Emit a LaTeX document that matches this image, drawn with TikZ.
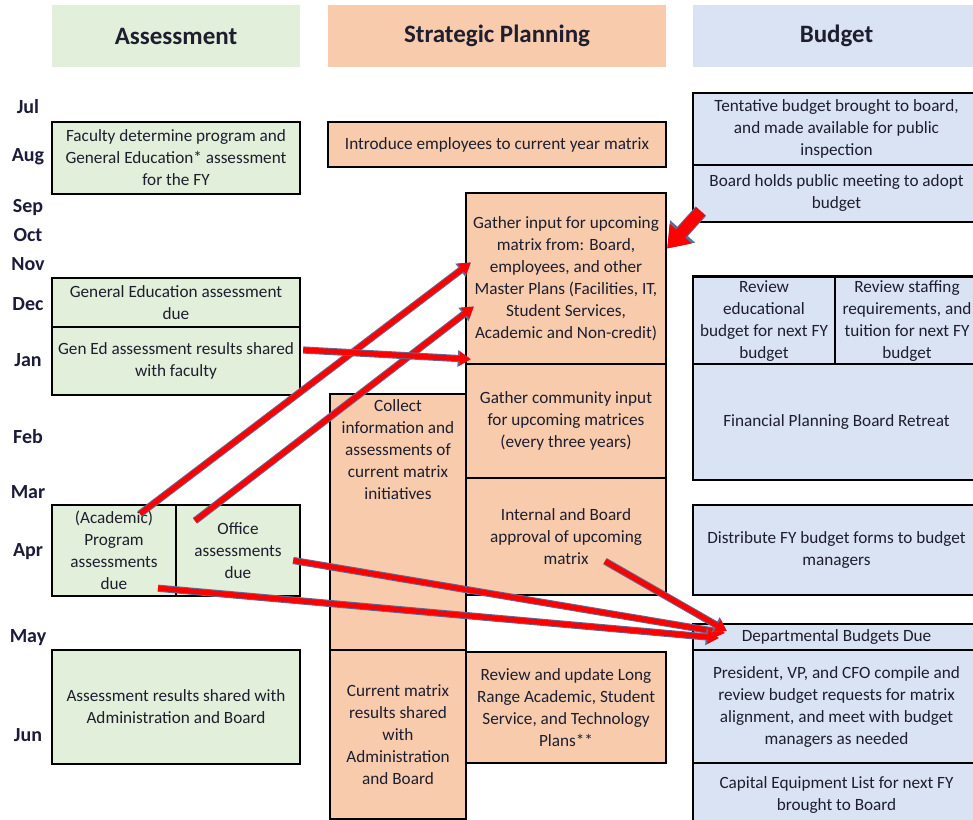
\documentclass[tikz,border=0pt]{standalone}
\usepackage{fontspec}
\setmainfont{Carlito}
\usetikzlibrary{arrows.meta}
\definecolor{assessgreen}{HTML}{E2EFDA}
\definecolor{planpeach}{HTML}{F8CBAD}
\definecolor{budgetblue}{HTML}{DAE3F3}
\definecolor{monthnavy}{HTML}{1C1C3A}
\definecolor{textdark}{HTML}{1E1E2E}
\definecolor{arrowred}{HTML}{FF0000}
\definecolor{arrowedge}{HTML}{5A6E9A}
\tikzset{%
  cell/.style     = {shape=rectangle, draw, line width=1.2pt, align=center,%
                     inner sep=2pt, text=textdark, font=\fontsize{8.6}{11}\selectfont},%
  assess/.style   = {cell, fill=assessgreen},%
  plan/.style     = {cell, fill=planpeach},%
  budget/.style   = {cell, fill=budgetblue},%
  header/.style   = {shape=rectangle, align=center, minimum height=31pt, text=textdark,%
                     font=\bfseries\fontsize{12.5}{15}\selectfont},%
  month/.style    = {font=\bfseries\fontsize{10}{12}\selectfont, text=monthnavy},%
  link/.style     = {draw=arrowred, line width=2.6pt, -{Triangle[width=6.5pt,length=5.5pt]},%
                     preaction={draw=arrowedge, line width=3.6pt, -{Triangle[width=8pt,length=6.5pt]}}},%
  biglink/.style  = {draw=arrowred, line width=6pt, -{Triangle[width=14pt,length=10pt]},%
                     preaction={draw=arrowedge, line width=7pt, -{Triangle[width=16pt,length=11.5pt]}}}%
}
\begin{document}
\begin{tikzpicture}[x=0.5pt,y=-0.5pt]
	\useasboundingbox (0,0) rectangle (973,819);
	\clip (0,0) rectangle (973,819);
	% column headers
	\node[header, fill=assessgreen, minimum width=124pt] (hassess) at (176,36) {Assessment};
	\node[header, fill=planpeach, minimum width=169pt] (hplan) at (497,36) {Strategic Planning};
	\node[header, fill=budgetblue, minimum width=143.5pt] (hbudget) at (836.5,36) {Budget};
	% months
	\node[month] (jul) at (28,107) {Jul};
	\node[month] (aug) at (28,157) {Aug};
	\node[month] (sep) at (28,208) {Sep};
	\node[month] (oct) at (28,235) {Oct};
	\node[month] (nov) at (28,264) {Nov};
	\node[month] (dec) at (28,304) {Dec};
	\node[month] (jan) at (28,360) {Jan};
	\node[month] (feb) at (28,437) {Feb};
	\node[month] (mar) at (28,492) {Mar};
	\node[month] (apr) at (28,552) {Apr};
	\node[month] (may) at (28,638) {May};
	\node[month] (jun) at (28,735) {Jun};
	% assessment
	\node[assess, minimum width=124pt, minimum height=36pt] (faculty) at (176,158)
		{Faculty determine program and\\General Education* assessment\\for the FY};
	\node[assess, minimum width=124pt, minimum height=24.5pt] (gedue) at (176,302.5)
		{General Education assessment\\due};
	\node[assess, minimum width=124pt, minimum height=34pt] (geres) at (176,361)
		{Gen Ed assessment results shared\\with faculty};
	\node[assess, minimum width=62pt, minimum height=45.5pt] (acad) at (114,550.5)
		{(Academic)\\Program\\assessments\\due};
	\node[assess, minimum width=62pt, minimum height=45.5pt] (office) at (238,550.5)
		{Office\\assessments\\due};
	\node[assess, minimum width=124pt, minimum height=57pt] (ashare) at (176,707)
		{Assessment results shared with\\Administration and Board};
	% strategic planning
	\node[plan, minimum width=169pt, minimum height=22.5pt] (intro) at (497,144.5)
		{Introduce employees to current year matrix};
	\node[plan, minimum width=100pt, minimum height=85.5pt] (gather) at (566,278.5)
		{Gather input for upcoming\\matrix from: Board,\\employees, and other\\Master Plans (Facilities, IT,\\Student Services,\\Academic and Non-credit)};
	\node[plan, minimum width=68pt, minimum height=128pt] (collect) at (398,522)
		{\parbox[c][122pt][t]{64pt}{\centering Collect\\information and\\assessments of\\current matrix\\initiatives}};
	\node[plan, minimum width=100pt, minimum height=57pt] (community) at (566,421)
		{Gather community input\\for upcoming matrices\\(every three years)};
	\node[plan, minimum width=100pt, minimum height=58.5pt] (internal) at (566,536.5)
		{Internal and Board\\approval of upcoming\\matrix};
	\node[plan, minimum width=68pt, minimum height=84.5pt] (current) at (398,734.5)
		{Current matrix\\results shared\\with\\Administration\\and Board};
	\node[plan, minimum width=100pt, minimum height=55.5pt] (review) at (566,707.5)
		{Review and update Long\\Range Academic, Student\\Service, and Technology\\Plans**};
	% budget
	\node[budget, minimum width=143.5pt, minimum height=36pt] (tentative) at (836.5,129)
		{Tentative budget brought to board,\\and made available for public\\inspection};
	\node[budget, minimum width=143.5pt, minimum height=28.5pt] (boardmeet) at (836.5,193.5)
		{Board holds public meeting to adopt\\budget};
	\node[budget, minimum width=71pt, minimum height=43pt] (reved) at (764,321)
		{Review\\educational\\budget for next FY\\budget};
	\node[budget, minimum width=72pt, minimum height=43pt] (revstaff) at (907,321)
		{Review staffing\\requirements, and\\tuition for next FY\\budget};
	\node[budget, minimum width=143.5pt, minimum height=58pt] (finplan) at (836.5,422)
		{Financial Planning Board Retreat};
	\node[budget, minimum width=143.5pt, minimum height=45pt] (distrib) at (836.5,550)
		{Distribute FY budget forms to budget\\managers};
	\node[budget, minimum width=143.5pt, minimum height=13pt, inner sep=1pt] (dept) at (836.5,637)
		{Departmental Budgets Due};
	\node[budget, minimum width=143.5pt, minimum height=56.5pt] (pres) at (836.5,706.5)
		{President, VP, and CFO compile and\\review budget requests for matrix\\alignment, and meet with budget\\managers as needed};
	\node[budget, minimum width=143.5pt, minimum height=32pt] (capital) at (836.5,795)
		{Capital Equipment List for next FY\\brought to Board};
	% arrows
	\draw[biglink] ([xshift=4.5pt,yshift=6pt]boardmeet.south west) -- ([yshift=15pt]gather.east);
	\draw[link] ([xshift=13pt,yshift=-5pt]acad.north) -- ([xshift=3pt,yshift=8pt]gather.west);
	\draw[link] ([xshift=-21.5pt,yshift=-8.5pt]office.north) -- ([xshift=4.5pt,yshift=-14pt]gather.west);
	\draw[link] ([xshift=1pt,yshift=5.5pt]geres.east) -- ([xshift=3pt,yshift=3pt]gather.south west);
	\draw[link] ([xshift=-4pt,yshift=-5pt]office.east) -- ([xshift=16.5pt,yshift=2pt]dept.west);
	\draw[link] ([xshift=22pt,yshift=4.5pt]acad.south) -- ([xshift=13.5pt,yshift=-0.5pt]dept.west);
	\draw[link] ([xshift=19.5pt,yshift=17.5pt]internal.south) -- ([xshift=17.5pt,yshift=3pt]dept.west);
\end{tikzpicture}
\end{document}
